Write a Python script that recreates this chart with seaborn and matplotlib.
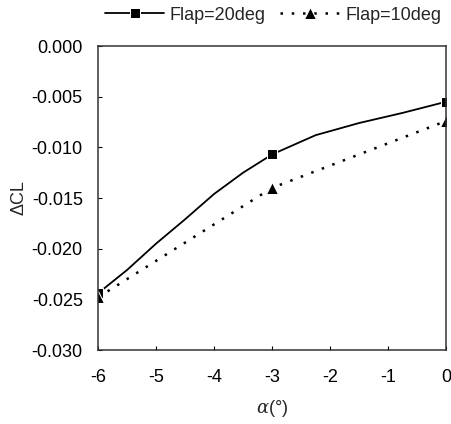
import matplotlib
matplotlib.use("Agg")
import pandas as pd
import seaborn as sns
import matplotlib.pyplot as plt

# values
alpha_20 = [-6, -5.5, -5, -4.5, -4, -3.5, -3, -2.25, -1.5, -0.75, 0]
dcl_20 = [-0.0244, -0.0221, -0.0195, -0.0171, -0.0146, -0.0125, -0.0107,
          -0.0088, -0.0076, -0.0066, -0.0055]
marks_20 = [0, 6, 10]

alpha_10 = [-6, -3, 0]
dcl_10 = [-0.0248, -0.0140, -0.0074]

x_ticks = [-6, -5, -4, -3, -2, -1, 0]
y_ticks = [0.000, -0.005, -0.010, -0.015, -0.020, -0.025, -0.030]

df20 = pd.DataFrame({"alpha": alpha_20, "dcl": dcl_20})
df10 = pd.DataFrame({"alpha": alpha_10, "dcl": dcl_10})

sns.set_style("ticks")
plt.rcParams["font.family"] = ["Liberation Sans", "DejaVu Sans"]
plt.rcParams["axes.unicode_minus"] = False
plt.rcParams["mathtext.fontset"] = "dejavuserif"

fig = plt.figure(figsize=(4.52, 4.24), dpi=100)
ax = fig.add_axes([0.217, 0.1745, 0.770, 0.717])

sns.lineplot(data=df20, x="alpha", y="dcl", ax=ax, color="black", linewidth=1.3,
             marker="s", markersize=7.5, markevery=marks_20, label="Flap=20deg")
sns.lineplot(data=df10, x="alpha", y="dcl", ax=ax, color="black", linewidth=1.8,
             linestyle=(0, (1, 3.5)), marker="^", markersize=8.5,
             label="Flap=10deg")

ax.set_xlim(-6, 0)
ax.set_ylim(-0.030, 0.000)
ax.set_xticks(x_ticks)
ax.set_xticklabels([str(v) for v in x_ticks])
ax.set_yticks(y_ticks)
ax.set_yticklabels([f"{v:.3f}" for v in y_ticks])
ax.tick_params(direction="in", length=3, labelsize=13, colors="black")
ax.tick_params(axis="x", pad=14)
ax.tick_params(axis="y", pad=11)
for s in ax.spines.values():
    s.set_color("#333333")
    s.set_linewidth(1.1)

ax.set_xlabel(r"$\alpha$(°)", fontsize=13, labelpad=8)
ax.set_ylabel("ΔCL", fontsize=13, labelpad=3)

ax.get_legend().remove()
h, l = ax.get_legend_handles_labels()
fig.legend(h, l, loc="center", bbox_to_anchor=(273 / 452, 1 - 15 / 424),
           ncol=2, frameon=False, fontsize=13, handlelength=3.3,
           columnspacing=0.8, handletextpad=0.3)

fig.savefig("out.png", dpi=100)
